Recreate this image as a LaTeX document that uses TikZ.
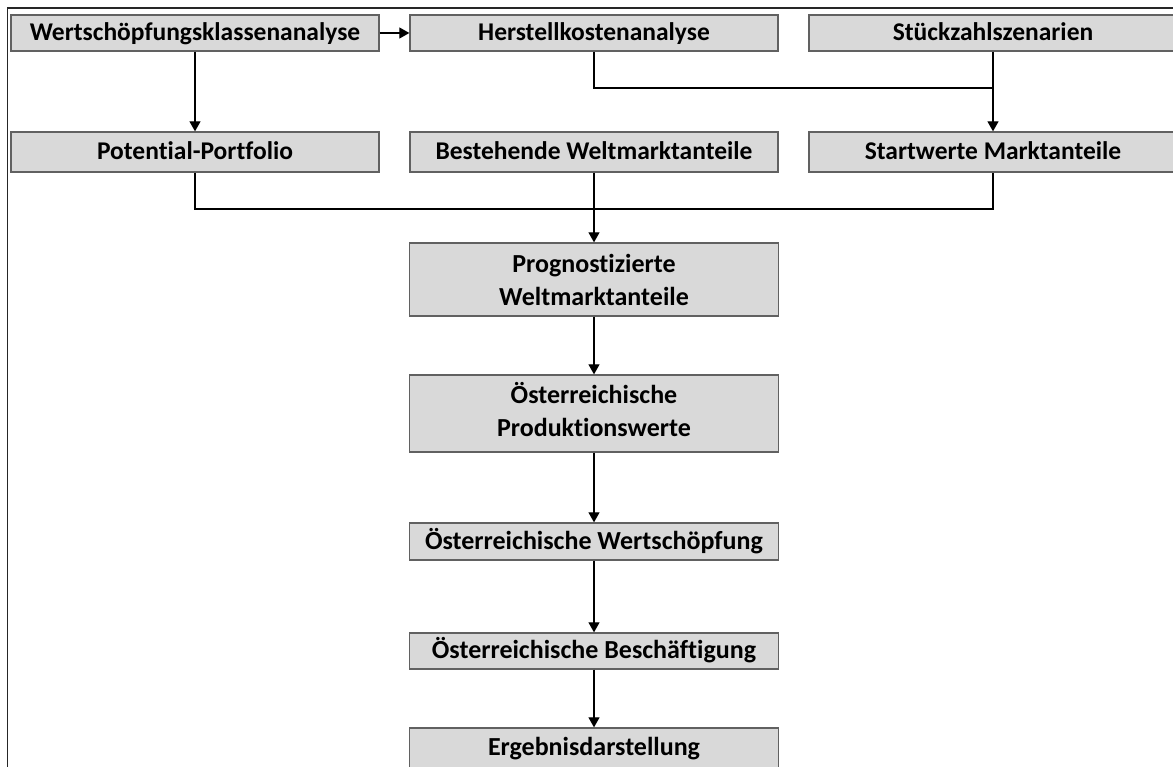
\documentclass[tikz,border=0pt]{standalone}
\usepackage{fontspec}
\setmainfont{Carlito}[Ligatures=NoCommon]
\usetikzlibrary{arrows.meta}
\begin{document}
\begin{tikzpicture}[x=1pt,y=-1pt,
  box/.style={draw=black!62,line width=1.3pt,fill=black!15,inner sep=0pt,
    minimum width=368pt,align=center,font=\fontsize{25.5}{33}\selectfont\bfseries},
  boxl/.style={box,minimum width=369pt,font=\fontsize{26}{33}\selectfont\bfseries},
  one/.style={text height=20pt,text depth=5pt},
  flow/.style={draw=black,line width=1.1pt},
  arr/.style={flow,-{Triangle[length=10pt,width=11pt]}}]
\useasboundingbox (0,0) rectangle (1173,767);
\clip (0,0) rectangle (1173,767);
% outer frame, open at right and bottom
\draw[black!85,line width=1.8pt] (7.5,790) -- (7.5,8) -- (1190,8);
% first row
\node[box,one,minimum height=36pt] (wka) at (195,33) {Wertschöpfungsklassenanalyse};
\node[box,one,minimum height=36pt] (hka) at (594,33) {Herstellkostenanalyse};
\node[box,one,minimum height=36pt] (stz) at (993,33) {Stückzahlszenarien};
% second row
\node[box,one,minimum height=40pt] (pp)  at (195,152) {Potential-Portfolio};
\node[box,one,minimum height=40pt] (bwm) at (594,152) {Bestehende Weltmarktanteile};
\node[box,one,minimum height=40pt] (swm) at (993,152) {Startwerte Marktanteile};
% main chain
\node[boxl,minimum height=73pt] (pwm) at (594,279.5) {Prognostizierte\\Weltmarktanteile};
\node[boxl,minimum height=77pt] (opw) at (594,413.5) {Österreichische\\Produktionswerte\rule[-8pt]{0pt}{0pt}};
\node[boxl,one,minimum height=37pt] (ows) at (594,541.5) {Österreichische Wertschöpfung};
\node[boxl,one,minimum height=36pt] (obs) at (594,651) {Österreichische Beschäftigung};
\node[boxl,one,minimum height=40pt] (erg) at (594,748) {Ergebnisdarstellung};
% junction points
\coordinate (j1) at (stz.south |- 0,88);
\coordinate (j2) at (bwm.south |- 0,209);
% connectors
\draw[arr] (wka.east) -- (hka.west);
\draw[arr] (wka.south) -- (pp.north);
\draw[flow] (hka.south) |- (j1);
\draw[arr] (stz.south) -- (swm.north);
\draw[flow] (pp.south) |- (j2) -| (swm.south);
\draw[arr] (bwm.south) -- (pwm.north);
\draw[arr] (pwm) -- (opw);
\draw[arr] (opw) -- (ows);
\draw[arr] (ows) -- (obs);
\draw[arr] (obs) -- (erg);
\end{tikzpicture}
\end{document}
